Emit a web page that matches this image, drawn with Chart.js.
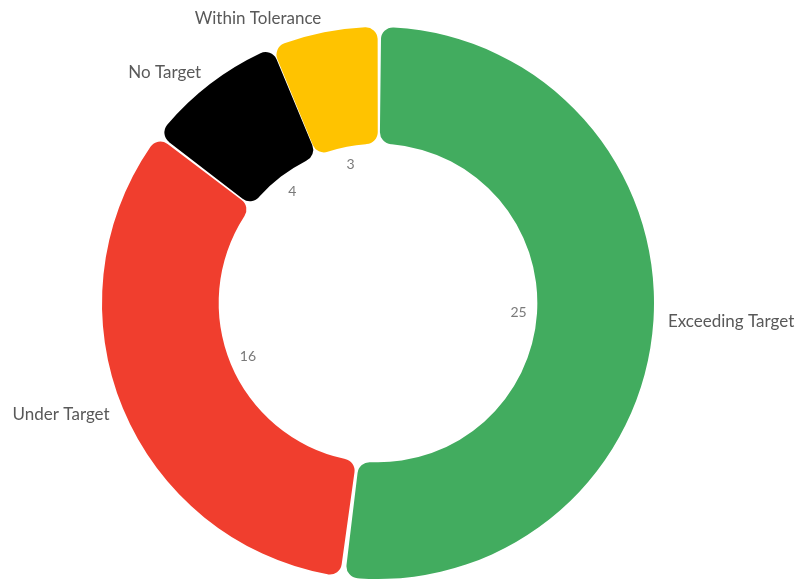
<!DOCTYPE html>
<html>
<head>
<meta charset="utf-8">
<script src="https://cdn.jsdelivr.net/npm/chart.js@4"></script>
<style>
    html, body { margin: 0; padding: 0; background: #ffffff; }
    #wrap { width: 802px; height: 579px; position: relative; }
</style>
</head>
<body>
<div id="wrap"><canvas id="donut"></canvas></div>
<script>
// Datos del gráfico
const categories = ['Exceeding Target', 'Under Target', 'No Target', 'Within Tolerance'];
const counts = [25, 16, 4, 3];
const sliceColors = ['#42ac5f', '#f03e2e', '#000000', '#ffc300'];

// Etiquetas fuera (categoría) y dentro (valor) del anillo
const sliceLabels = {
    id: 'sliceLabels',
    afterDraw(chart) {
        const ctx = chart.ctx;
        const meta = chart.getDatasetMeta(0);
        ctx.save();
        meta.data.forEach((arc, i) => {
            const mid = (arc.startAngle + arc.endAngle) / 2;
            const cx = arc.x, cy = arc.y;
            const cos = Math.cos(mid), sin = Math.sin(mid);

            // categoría
            const rOut = arc.outerRadius + 16;
            ctx.font = '17px Lato';
            ctx.fillStyle = '#595959';
            ctx.textBaseline = 'middle';
            ctx.textAlign = cos >= 0 ? 'left' : 'right';
            ctx.fillText(categories[i], cx + rOut * cos, cy + rOut * sin);

            // valor
            const rIn = arc.innerRadius - 17;
            ctx.font = '14px Lato';
            ctx.fillStyle = '#7a7a7a';
            ctx.textAlign = 'center';
            ctx.fillText(String(counts[i]), cx + rIn * cos, cy + rIn * sin);
        });
        ctx.restore();
    }
};

new Chart(document.getElementById('donut'), {
    type: 'doughnut',
    data: {
        labels: categories,
        datasets: [{
            data: counts,
            backgroundColor: sliceColors,
            borderWidth: 0,
            borderRadius: 12,
            spacing: 3
        }]
    },
    options: {
        responsive: true,
        maintainAspectRatio: false,
        animation: false,
        cutout: '57.5%',
        layout: { padding: { top: 27, bottom: 0, left: 0, right: 46 } },
        plugins: {
            legend: { display: false },
            tooltip: { enabled: false }
        }
    },
    plugins: [sliceLabels]
});
</script>
</body>
</html>
